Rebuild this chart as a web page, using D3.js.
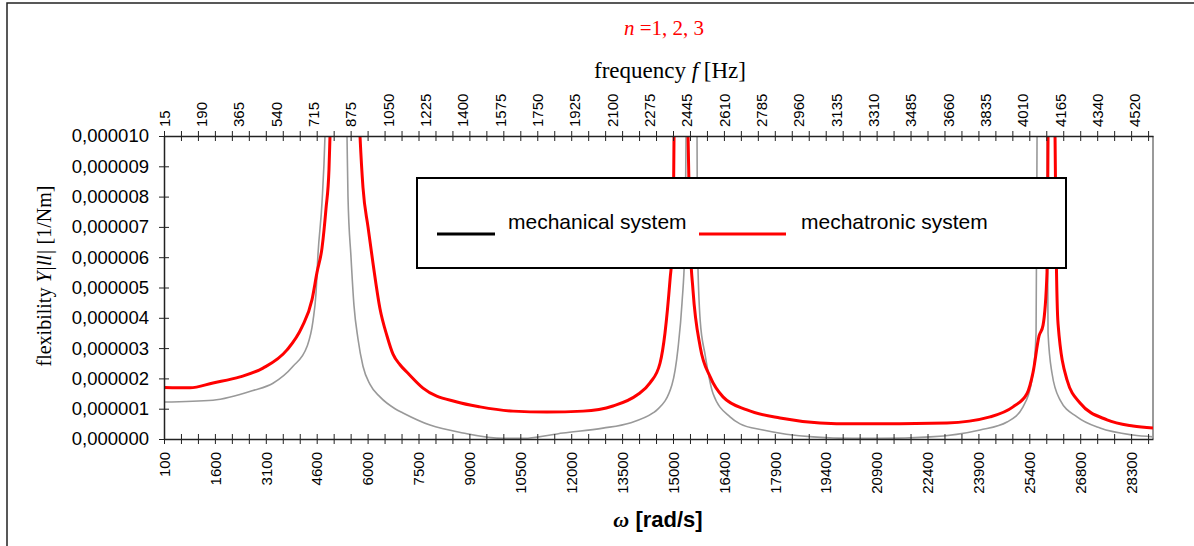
<!DOCTYPE html>
<html>
<head>
<meta charset="utf-8">
<script src="https://cdn.jsdelivr.net/npm/d3@7"></script>
<style>
body { margin: 0; background: #fff; }
text { font-family: "Liberation Sans", Arial, sans-serif; }
.serif { font-family: "Liberation Serif", "Times New Roman", serif; }
</style>
</head>
<body>
<div id="chart"></div>
<script>
// bottom axis labels, omega [rad/s] (category labels, one every 1500 rad/s)
var omegaLabels = ["100","1600","3100","4600","6000","7500","9000","10500","12000","13500",
  "15000","16400","17900","19400","20900","22400","23900","25400","26800","28300"];
// top axis labels, frequency f [Hz] (one every 1100 rad/s)
var freqLabels = ["15","190","365","540","715","875","1050","1225","1400","1575","1750","1925",
  "2100","2275","2445","2610","2785","2960","3135","3310","3485","3660","3835","4010","4165","4340","4520"];
var yTicks = [0,1,2,3,4,5,6,7,8,9,10]; // x 1e-6 1/Nm

// mechanical system: omega [rad/s], flexibility [1e-6 1/Nm]
var mechOmega = [100,1544,2723,3312,3902,4314,4491,4579,4638,4756,4844,5170,5493,5522,5611,5699,5817,5964,6171,6465,6908,7143,7939,8911,10090,10680,11859,13037,13833,14511,14629,15071,15248,15366,15454,15484,15650,15808,15823,15902,16043,16279,16780,17075,17753,19226,20404,21200,22673,24148,24943,25415,25710,25799,25828,25975,26122,26152,26269,26505,27006,27684,28656,29245];
var mechFlex  = [1.22,1.28,1.6,1.84,2.4,3.05,3.9,4.8,6.1,7.8,10,40,10,8.0,6.0,4.4,3.3,2.4,1.8,1.39,1.0,0.86,0.46,0.2,0.02,0.02,0.2,0.36,0.53,0.86,0.96,1.8,3.0,4.5,6.5,10,40,10,6.3,3.9,2.8,1.5,0.73,0.5,0.3,0.07,0.02,0.02,0.07,0.3,0.56,1.06,2.17,3.5,10,40,10,3.5,2.17,1.29,0.73,0.36,0.13,0.07];

// mechatronic system
var mechaOmega = [100,866,1544,2340,3018,3725,4167,4462,4609,4756,4874,4962,4992,5430,5876,5964,6112,6259,6465,6672,6849,7055,7291,7733,8735,9412,10385,11387,12448,13332,14039,14422,14717,14864,15012,15100,15130,15340,15543,15602,15690,15902,16196,16573,17281,18254,19432,20404,23174,24442,25120,25533,25710,25887,26004,26122,26152,26255,26358,26388,26447,26711,27095,27890,28656,29245];
var mechaFlex  = [1.70,1.69,1.85,2.05,2.34,2.94,3.7,4.6,5.5,6.3,7.6,8.9,10,30,10,8.3,7.0,5.8,4.3,3.4,2.8,2.45,2.17,1.68,1.22,1.06,0.92,0.89,0.92,1.09,1.45,1.85,2.5,3.5,5.25,6.6,10,40,10,6.57,4.9,3.04,2.05,1.39,0.96,0.69,0.53,0.5,0.53,0.73,1.06,1.5,2.2,3.4,3.75,5.5,10,40,10,6.6,3.8,1.95,1.19,0.63,0.43,0.36];

var W = 1194, H = 546;
var margin = {top: 136, left: 164},
    width = 989, height = 303;

var svg = d3.select("#chart").append("svg")
    .attr("width", W)
    .attr("height", H);

// outer frame
svg.append("rect")
    .attr("x", 7).attr("y", 3)
    .attr("width", 1300).attr("height", 700)
    .attr("fill", "none").attr("stroke", "#222").attr("stroke-width", 1.5);

var g = svg.append("g")
    .attr("transform", "translate(" + margin.left + "," + margin.top + ")");

var x = d3.scaleLinear().domain([100, 29245]).range([0, width]);
var y = d3.scaleLinear().domain([0, 10]).range([height, 0]);

svg.append("defs").append("clipPath").attr("id", "clip")
  .append("rect").attr("x", 0).attr("y", 0).attr("width", width).attr("height", height);

// plot area border (right side in grey)
g.append("line")
    .attr("x1", width).attr("x2", width).attr("y1", 0).attr("y2", height)
    .attr("stroke", "#9a9a9a").attr("stroke-width", 2);

var line = d3.line()
    .x(function(d) { return x(d[0]); })
    .y(function(d) { return y(d[1]); })
    .curve(d3.curveMonotoneX);

var curves = g.append("g").attr("clip-path", "url(#clip)");
curves.append("path")
    .datum(d3.zip(mechOmega, mechFlex))
    .attr("d", line)
    .attr("fill", "none").attr("stroke", "#999").attr("stroke-width", 1.6);
curves.append("path")
    .datum(d3.zip(mechaOmega, mechaFlex))
    .attr("d", line)
    .attr("fill", "none").attr("stroke", "#ff0000").attr("stroke-width", 3);

// cross tick marks
function crossTicks(sel) {
  sel.selectAll(".tick line").attr("y1", -5).attr("y2", 5).attr("stroke", "#222");
  sel.select(".domain").attr("stroke", "#222").attr("stroke-width", 1.5);
}

// bottom axis - minor ticks every 500 rad/s
var minorVals = d3.range(100, 29245, 500);
var xMinor = g.append("g").attr("transform", "translate(0," + height + ")")
    .call(d3.axisBottom(x).tickValues(minorVals).tickFormat("").tickSizeOuter(0));
crossTicks(xMinor);

var xAxis = g.append("g").attr("transform", "translate(0," + height + ")")
    .call(d3.axisBottom(x)
      .tickValues(omegaLabels.map(function(d, i) { return 100 + 1500 * i; }))
      .tickFormat(function(d, i) { return omegaLabels[i]; })
      .tickSize(0));
xAxis.select(".domain").remove();
xAxis.selectAll("text")
    .attr("font-size", 15).attr("fill", "#000")
    .attr("y", 0).attr("x", 0).attr("dy", "0.35em")
    .style("text-anchor", "end")
    .attr("transform", "translate(0,13) rotate(-90)");

// top axis (frequency)
var topMinor = g.append("g")
    .call(d3.axisTop(x).tickValues(minorVals).tickFormat("").tickSizeOuter(0));
crossTicks(topMinor);

var topAxis = g.append("g")
    .call(d3.axisTop(x)
      .tickValues(freqLabels.map(function(d, i) { return 100 + 1100 * i; }))
      .tickFormat(function(d, i) { return freqLabels[i]; })
      .tickSize(0));
topAxis.select(".domain").remove();
topAxis.selectAll("text")
    .attr("font-size", 15).attr("fill", "#000")
    .attr("y", 0).attr("x", 0).attr("dy", "0.35em")
    .style("text-anchor", "start")
    .attr("transform", "translate(0,-9) rotate(-90)");

// y axis
var yAxis = g.append("g")
    .call(d3.axisLeft(y)
      .tickValues(yTicks)
      .tickFormat(function(d) { return d3.format(".6f")(d * 1e-6).replace(".", ","); })
      .tickSizeOuter(0));
yAxis.selectAll(".tick line").attr("x1", -5).attr("x2", 5).attr("stroke", "#222");
yAxis.select(".domain").attr("stroke", "#222").attr("stroke-width", 1.5);
yAxis.selectAll("text").attr("font-size", 18.5).attr("fill", "#000").attr("x", -15);

// legend
var legend = svg.append("g");
legend.append("rect")
    .attr("x", 417).attr("y", 178).attr("width", 649).attr("height", 90)
    .attr("fill", "#fff").attr("stroke", "#000").attr("stroke-width", 2);
legend.append("line").attr("x1", 437).attr("x2", 495).attr("y1", 234).attr("y2", 234)
    .attr("stroke", "#000").attr("stroke-width", 3);
legend.append("text").attr("x", 508).attr("y", 229).attr("font-size", 21)
    .text("mechanical system");
legend.append("line").attr("x1", 699).attr("x2", 786).attr("y1", 234).attr("y2", 234)
    .attr("stroke", "#ff0000").attr("stroke-width", 3);
legend.append("text").attr("x", 801).attr("y", 229).attr("font-size", 21)
    .text("mechatronic system");

// titles
var t1 = svg.append("text").attr("class", "serif")
    .attr("x", 664).attr("y", 35).attr("text-anchor", "middle")
    .attr("font-size", 21).attr("fill", "#ff0000");
t1.append("tspan").attr("font-style", "italic").text("n");
t1.append("tspan").text(" =1, 2, 3");

var t2 = svg.append("text").attr("class", "serif")
    .attr("x", 670).attr("y", 78).attr("text-anchor", "middle")
    .attr("font-size", 23);
t2.append("tspan").text("frequency ");
t2.append("tspan").attr("font-style", "italic").text("f");
t2.append("tspan").text(" [Hz]");

var t3 = svg.append("text").attr("class", "serif")
    .attr("transform", "translate(51,276) rotate(-90)")
    .attr("text-anchor", "middle").attr("font-size", 20);
t3.append("tspan").text("flexibility ");
t3.append("tspan").attr("font-style", "italic").text("Y|ll|");
t3.append("tspan").text(" [1/Nm]");

var t4 = svg.append("text")
    .attr("x", 658).attr("y", 527).attr("text-anchor", "middle")
    .attr("font-size", 22).attr("font-weight", "bold");
t4.append("tspan").attr("class", "serif").attr("font-style", "italic").text("ω");
t4.append("tspan").text("  [rad/s]");
</script>
</body>
</html>
